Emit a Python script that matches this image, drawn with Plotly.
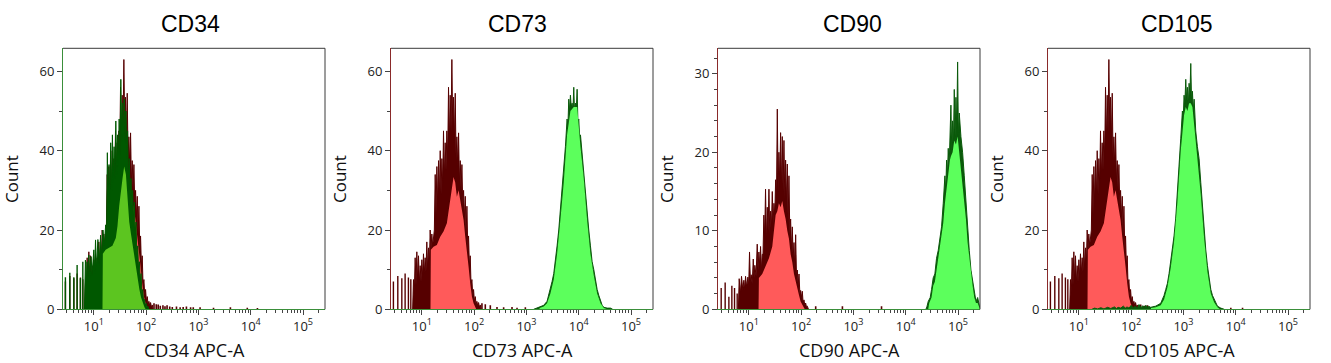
import plotly.graph_objects as go

# ---------------- DATA (log10 of APC-A intensity, counts) ----------------
panel_titles = ["CD34", "CD73", "CD90", "CD105"]
axis_titles = ["CD34 APC-A", "CD73 APC-A", "CD90 APC-A", "CD105 APC-A"]
x_tick_vals = [10, 100, 1000, 10000, 100000]
x_tick_text = ["10<sup>1</sup>", "10<sup>2</sup>", "10<sup>3</sup>", "10<sup>4</sup>", "10<sup>5</sup>"]

# isotype control (panels CD34, CD73, CD105)
iso_spike_log = [0.456, 0.540, 0.617, 0.680, 0.743, 0.789]
iso_spike_cnt = [7.0, 8.4, 7.8, 9.0, 8.0, 7.6]
iso_hi_log = [0.824, 0.840, 0.856, 0.872, 0.888, 0.904, 0.920, 0.936, 0.952, 0.968, 0.984, 1.000,
              1.016, 1.031, 1.047, 1.063, 1.079, 1.095, 1.111, 1.127, 1.143, 1.159, 1.175, 1.191,
              1.207, 1.223, 1.239, 1.255, 1.271, 1.287, 1.303, 1.319, 1.335, 1.351, 1.367, 1.383,
              1.399, 1.414, 1.430, 1.446, 1.462, 1.478, 1.494, 1.510, 1.526, 1.542, 1.558, 1.574,
              1.590, 1.606, 1.622, 1.638, 1.654, 1.670, 1.686, 1.702, 1.718, 1.734, 1.750, 1.766,
              1.782, 1.798, 1.814, 1.830, 1.846, 1.862, 1.878, 1.893, 1.909, 1.925, 1.941, 1.957,
              1.973, 1.989, 2.005, 2.021, 2.037, 2.053, 2.069, 2.085, 2.101, 2.117, 2.133]
iso_hi_cnt = [0, 7.5, 4.0, 13.0, 6.0, 14.5, 7.0, 13.5, 6.5, 11.0, 7.0, 12.5,
              8.0, 14.0, 9.0, 13.0, 9.5, 17.0, 10.0, 15.5, 11.0, 20.0, 15.0, 19.0,
              16.0, 18.0, 20.0, 34.0, 24.0, 36.0, 26.0, 37.5, 28.0, 40.0, 29.0, 38.0,
              31.0, 45.0, 33.0, 42.0, 35.0, 45.0, 38.0, 56.0, 42.0, 54.0, 45.0, 63.0,
              46.0, 53.5, 42.0, 54.5, 38.0, 43.5, 36.0, 44.5, 32.0, 37.5, 30.0, 36.5,
              26.0, 30.0, 23.0, 28.5, 19.0, 26.0, 15.0, 18.5, 11.0, 13.5, 6.0, 7.5,
              3.5, 5.0, 2.0, 3.2, 1.2, 2.0, 0.8, 1.7, 0.5, 1.1, 0]
iso_lo_log = [1.165, 1.172, 1.223, 1.287, 1.351, 1.414, 1.478, 1.542, 1.574, 1.606, 1.638, 1.670,
              1.702, 1.734, 1.766, 1.798, 1.830, 1.862, 1.893, 1.925, 1.957, 1.989, 2.021, 2.040]
iso_lo_cnt = [0, 15.0, 15.8, 16.2, 18.3, 19.6, 21.7, 27.6, 30.0, 33.4, 32.0, 28.4,
              30.0, 27.6, 25.9, 22.5, 18.3, 15.0, 10.8, 6.6, 3.2, 1.5, 0.7, 0]
cd34_iso_tail_log = [2.15, 2.193, 2.23, 2.27, 2.321, 2.36, 2.40, 2.451, 2.50, 2.58, 2.65, 2.708,
                     2.77, 2.85, 2.901, 3.031, 3.288, 3.611, 3.934, 4.128]
cd34_iso_tail_cnt = [1.5, 1.3, 1.2, 0.9, 1.0, 0.8, 1.0, 0.7, 0.6, 0.7, 0.5, 0.6,
                     0.7, 0.5, 0.5, 0.5, 0.4, 0.5, 0.4, 0.3]
cd73_iso_tail_log = [2.149, 2.213, 2.309, 2.437, 2.564, 2.724, 2.820, 2.979]
cd73_iso_tail_cnt = [1.5, 1.3, 1.0, 0.6, 0.5, 0.6, 0.4, 0.5]
cd105_iso_tail_log = [2.182, 2.25, 2.31, 2.437, 2.55, 2.70, 3.906, 4.13]
cd105_iso_tail_cnt = [1.2, 0.9, 1.0, 0.7, 0.5, 0.4, 0.4, 0.4]

# CD34 stain
cd34_spike_log = [0.456, 0.540, 0.617, 0.680, 0.743, 0.789]
cd34_spike_cnt = [8.1, 9.2, 8.1, 11.2, 7.8, 12.0]
cd34_hi_log = [0.820, 0.839, 0.855, 0.870, 0.886, 0.903, 0.920, 0.948, 0.965, 1.000, 1.016, 1.032,
               1.050, 1.077, 1.100, 1.129, 1.150, 1.174, 1.200, 1.226, 1.242, 1.258, 1.274, 1.290,
               1.306, 1.322, 1.338, 1.355, 1.371, 1.387, 1.403, 1.420, 1.436, 1.452, 1.468, 1.484,
               1.500, 1.516, 1.532, 1.548, 1.564, 1.580, 1.596, 1.613, 1.629, 1.645, 1.661, 1.677,
               1.693, 1.710, 1.726, 1.742, 1.758, 1.774, 1.790, 1.806, 1.822, 1.839, 1.855, 1.871,
               1.887, 1.903, 1.919, 1.935, 1.951, 1.968, 1.984, 2.000, 2.016, 2.032, 2.050]
cd34_hi_cnt = [0, 12.4, 6.0, 12.0, 7.0, 13.7, 8.0, 13.3, 8.5, 15.0, 9.0, 17.5,
               10.0, 17.6, 11.0, 18.7, 13.0, 20.0, 16.0, 21.3, 18.0, 39.5, 25.0, 36.5,
               27.0, 42.0, 30.0, 44.0, 32.0, 41.0, 33.0, 47.5, 34.0, 44.0, 36.0, 48.0,
               38.0, 58.0, 42.0, 52.0, 43.0, 53.0, 42.0, 50.0, 38.0, 45.0, 33.0, 38.0,
               29.0, 33.0, 26.0, 30.0, 23.0, 27.0, 19.0, 22.0, 14.0, 16.0, 10.0, 12.0,
               7.0, 9.0, 4.0, 5.0, 2.0, 2.5, 1.0, 1.5, 0.5, 0.8, 0]
cd34_lo_log = [1.165, 1.172, 1.226, 1.290, 1.355, 1.420, 1.452, 1.484, 1.516, 1.548, 1.580, 1.613,
               1.645, 1.677, 1.710, 1.742, 1.774, 1.806, 1.839, 1.871, 1.903, 1.935, 1.968, 1.990]
cd34_lo_cnt = [0, 14.0, 15.0, 15.5, 16.0, 18.0, 21.0, 26.0, 30.0, 33.0, 36.0, 34.0,
               28.0, 22.0, 19.0, 16.0, 13.0, 10.0, 7.5, 5.0, 3.0, 1.5, 0.5, 0]

# CD73 stain
cd73_hi_log = [3.138, 3.202, 3.266, 3.330, 3.394, 3.426, 3.458, 3.490, 3.522, 3.554, 3.586, 3.618,
               3.649, 3.681, 3.713, 3.745, 3.777, 3.793, 3.809, 3.825, 3.841, 3.857, 3.873, 3.889,
               3.905, 3.921, 3.937, 3.953, 3.969, 3.985, 4.001, 4.017, 4.033, 4.064, 4.096, 4.128,
               4.160, 4.192, 4.224, 4.256, 4.288, 4.320, 4.352, 4.384, 4.416, 4.448, 4.480, 4.543,
               4.607, 4.650]
cd73_hi_cnt = [0, 0.3, 0.5, 1.0, 2.0, 3.5, 5.0, 7.0, 9.0, 12.0, 16.0, 20.0,
               25.0, 30.0, 35.0, 41.0, 48.0, 46.0, 53.0, 50.0, 54.0, 51.0, 52.0, 50.0,
               56.0, 49.0, 52.0, 50.0, 55.5, 47.0, 48.0, 43.0, 44.0, 39.0, 36.0, 30.0,
               25.0, 20.0, 16.0, 12.0, 10.0, 7.0, 5.0, 3.5, 2.0, 1.0, 0.5, 0.3,
               0.3, 0]
cd73_lo_log = [3.250, 3.330, 3.394, 3.458, 3.522, 3.586, 3.649, 3.713, 3.777, 3.841, 3.905, 3.969,
               4.033, 4.096, 4.160, 4.224, 4.288, 4.352, 4.416, 4.480, 4.550]
cd73_lo_cnt = [0.3, 0.7, 1.5, 4.0, 7.5, 14.0, 22.5, 32.0, 44.0, 50.0, 51.0, 51.0,
               41.0, 33.0, 22.5, 14.0, 8.5, 4.0, 1.5, 0.3, 0]

# CD90 isotype
cd90_iso_spike_log = [0.471, 0.547, 0.618, 0.675, 0.726, 0.777]
cd90_iso_spike_cnt = [2.7, 3.4, 1.6, 3.0, 2.7, 2.0]
cd90_iso_hi_log = [0.800, 0.815, 0.838, 0.860, 0.883, 0.905, 0.921, 0.937, 0.959, 0.981, 0.997, 1.013,
                   1.029, 1.045, 1.065, 1.084, 1.100, 1.115, 1.138, 1.160, 1.176, 1.192, 1.208, 1.224,
                   1.240, 1.256, 1.271, 1.287, 1.303, 1.319, 1.336, 1.352, 1.368, 1.384, 1.400, 1.416,
                   1.432, 1.448, 1.464, 1.480, 1.496, 1.512, 1.528, 1.544, 1.560, 1.575, 1.591, 1.607,
                   1.623, 1.639, 1.655, 1.671, 1.687, 1.703, 1.719, 1.735, 1.751, 1.767, 1.783, 1.799,
                   1.815, 1.831, 1.847, 1.863, 1.879, 1.895, 1.911, 1.927, 1.943, 1.959, 1.975, 1.990,
                   2.006, 2.022, 2.038, 2.054, 2.070, 2.086, 2.102, 2.118, 2.140]
cd90_iso_hi_cnt = [0, 3.9, 2.0, 4.2, 2.5, 3.7, 2.5, 4.2, 2.8, 4.1, 3.0, 7.3,
                   3.5, 4.4, 3.2, 6.4, 4.0, 5.6, 4.2, 8.3, 5.0, 7.3, 5.5, 8.0,
                   5.0, 7.0, 7.0, 12.0, 9.0, 15.3, 8.5, 13.0, 10.0, 15.3, 9.5, 12.5,
                   10.5, 15.0, 11.0, 13.5, 12.0, 16.5, 14.0, 25.5, 15.0, 20.0, 16.0, 22.5,
                   15.5, 22.0, 15.0, 21.5, 14.0, 19.0, 13.5, 18.5, 11.0, 17.0, 9.5, 11.5,
                   7.5, 10.5, 6.5, 8.5, 5.0, 9.5, 4.0, 5.0, 3.0, 4.5, 2.0, 2.4,
                   1.5, 2.3, 0.8, 1.2, 0.5, 0.8, 0.3, 0.4, 0]
cd90_iso_lo_log = [1.185, 1.192, 1.256, 1.319, 1.384, 1.448, 1.480, 1.512, 1.544, 1.575, 1.607, 1.639,
                   1.671, 1.703, 1.735, 1.767, 1.799, 1.831, 1.863, 1.895, 1.927, 1.959, 1.990, 2.022,
                   2.054, 2.070]
cd90_iso_lo_cnt = [0, 4.0, 4.5, 5.5, 6.5, 8.0, 10.0, 12.0, 12.5, 13.5, 13.0, 13.8,
                   12.5, 11.5, 10.0, 9.0, 7.0, 6.0, 4.5, 3.5, 2.5, 1.8, 1.0, 0.5,
                   0.2, 0]
cd90_iso_tail_log = [2.278, 2.789, 3.537]
cd90_iso_tail_cnt = [0.4, 0.4, 0.4]

# CD90 stain
cd90_hi_log = [4.385, 4.404, 4.430, 4.468, 4.493, 4.525, 4.557, 4.589, 4.621, 4.653, 4.685, 4.717,
               4.749, 4.765, 4.781, 4.797, 4.813, 4.829, 4.845, 4.864, 4.880, 4.896, 4.912, 4.928,
               4.944, 4.960, 4.976, 4.992, 5.007, 5.023, 5.055, 5.087, 5.119, 5.151, 5.183, 5.215,
               5.247, 5.279, 5.311, 5.343, 5.375, 5.407, 5.439]
cd90_hi_cnt = [0, 0.3, 1.0, 1.5, 2.5, 4.0, 4.5, 6.5, 7.5, 9.0, 10.5, 13.5,
               17.0, 15.0, 19.0, 17.0, 20.5, 18.0, 23.5, 26.0, 20.0, 24.0, 21.0, 28.0,
               22.0, 27.0, 23.0, 31.5, 22.0, 25.0, 22.0, 20.0, 17.0, 13.5, 10.0, 7.5,
               5.0, 3.5, 2.0, 1.0, 1.5, 0.5, 0.3]
cd90_lo_log = [4.430, 4.449, 4.493, 4.525, 4.557, 4.589, 4.621, 4.653, 4.685, 4.717, 4.749, 4.781,
               4.813, 4.845, 4.864, 4.896, 4.928, 4.960, 4.992, 5.023, 5.055, 5.087, 5.119, 5.151,
               5.183, 5.215, 5.247, 5.279, 5.311, 5.343, 5.375, 5.407, 5.420]
cd90_lo_cnt = [0, 0.8, 1.5, 3.0, 3.5, 5.0, 6.0, 7.5, 9.0, 11.0, 13.5, 15.5,
               17.0, 19.0, 19.5, 20.0, 21.5, 21.0, 22.0, 20.0, 18.5, 16.5, 14.0, 11.5,
               8.5, 6.5, 4.5, 3.0, 1.5, 0.8, 0.8, 0.3, 0]

# CD105 stain
cd105_hi_log = [1.25, 1.30, 1.36, 1.42, 1.48, 1.55, 1.61, 1.68, 1.72, 1.75, 1.80, 1.85, 1.89,
                1.92, 1.96, 2.00, 2.04, 2.08, 2.12, 2.15, 2.19, 2.22, 2.25, 2.28, 2.31, 2.33,
                2.373, 2.469, 2.565, 2.597, 2.629, 2.661, 2.693, 2.725, 2.757, 2.789, 2.820, 2.852,
                2.884, 2.916, 2.948, 2.980, 2.996, 3.012, 3.028, 3.044, 3.060, 3.076, 3.092, 3.108,
                3.124, 3.140, 3.156, 3.172, 3.188, 3.204, 3.220, 3.235, 3.267, 3.299, 3.331, 3.363,
                3.395, 3.427, 3.459, 3.491, 3.523, 3.555, 3.587, 3.619, 3.650, 3.714, 3.780]
cd105_hi_cnt = [0, 0.3, 0.1, 0.4, 0.1, 0.5, 0.2, 0.6, 0.2, 0.5, 0.3, 0.8, 0.3,
                0.6, 0.3, 1.0, 0.4, 0.8, 0.3, 1.2, 0.4, 0.9, 0.5, 1.0, 0.5, 0.8,
                0.5, 0.8, 1.5, 2.5, 3.5, 5.0, 6.5, 9.0, 12.0, 15.0, 18.5, 23.0,
                29.0, 35.0, 43.0, 50.0, 48.0, 54.0, 52.0, 58.0, 53.0, 56.0, 51.0, 57.0,
                54.0, 62.0, 52.0, 55.0, 50.0, 53.0, 46.0, 45.0, 41.0, 38.0, 32.0, 26.0,
                20.0, 15.0, 11.0, 7.5, 5.0, 3.5, 2.5, 1.5, 0.8, 0.3, 0]
cd105_lo_log = [2.380, 2.469, 2.565, 2.629, 2.693, 2.757, 2.820, 2.884, 2.948, 3.012, 3.044, 3.076,
                3.108, 3.140, 3.172, 3.204, 3.267, 3.331, 3.395, 3.459, 3.523, 3.587, 3.650, 3.700]
cd105_lo_cnt = [0.3, 0.5, 1.0, 2.5, 5.5, 10.5, 17.0, 27.0, 40.0, 49.0, 51.0, 50.0,
                52.0, 52.0, 51.0, 47.0, 38.0, 29.0, 18.0, 9.5, 4.0, 1.8, 0.5, 0]

y_ranges = [65.83, 65.83, 33.24, 65.83]
y_tick_vals = [[0, 20, 40, 60], [0, 20, 40, 60], [0, 10, 20, 30], [0, 20, 40, 60]]
y_minor_dtick = [10, 10, 2, 10]

# ---------------- STYLE ----------------
W, H = 1331, 363
RED_DARK, RED_LIGHT = "#560000", "#ff5a5a"
GRN_DARK, GRN_LIGHT = "#0b5a0b", "#5cff5c"
GRN1_DARK, GRN1_LIGHT = "#005800", "#5cc520"
AX_GREEN, AX_RED, FRAME = "#3a8f3a", "#8a2a2a", "#3a3a3a"
LABEL_FONT = "Open Sans, DejaVu Sans, sans-serif"
TITLE_FONT = "Liberation Sans, Arial, sans-serif"

plot_left = [63, 391, 718, 1048]
plot_w = 262
plot_top, plot_bottom = 48.3, 309.3


def lin(vals):
    return [10 ** v for v in vals]


def spikes(logs, cnts):
    xs, ys = [], []
    for l, c in zip(logs, cnts):
        xs += [10 ** l, 10 ** l, None]
        ys += [0, c, None]
    return xs, ys


fig = go.Figure()


def add_pop(i, dark, light, hi_log, hi_cnt, lo_log=None, lo_cnt=None,
            sp_log=None, sp_cnt=None, tail_log=None, tail_cnt=None):
    xa, ya = f"x{i + 1}", f"y{i + 1}"
    fig.add_trace(go.Scatter(x=lin(hi_log), y=hi_cnt, mode="lines", xaxis=xa, yaxis=ya,
                             line=dict(color=dark, width=1), fill="tozeroy", fillcolor=dark,
                             hoverinfo="skip", showlegend=False))
    if sp_log:
        sx, sy = spikes(sp_log, sp_cnt)
        fig.add_trace(go.Scatter(x=sx, y=sy, mode="lines", xaxis=xa, yaxis=ya,
                                 line=dict(color=dark, width=1.4), hoverinfo="skip", showlegend=False))
    if tail_log:
        tx, ty = spikes(tail_log, tail_cnt)
        fig.add_trace(go.Scatter(x=tx, y=ty, mode="lines", xaxis=xa, yaxis=ya,
                                 line=dict(color=dark, width=1.6), hoverinfo="skip", showlegend=False))
    if lo_log:
        fig.add_trace(go.Scatter(x=lin(lo_log), y=lo_cnt, mode="lines", xaxis=xa, yaxis=ya,
                                 line=dict(color=light, width=0), fill="tozeroy", fillcolor=light,
                                 hoverinfo="skip", showlegend=False))


# panel 1: CD34
add_pop(0, RED_DARK, RED_LIGHT, iso_hi_log, iso_hi_cnt, iso_lo_log, iso_lo_cnt,
        iso_spike_log, iso_spike_cnt, cd34_iso_tail_log, cd34_iso_tail_cnt)
add_pop(0, GRN1_DARK, GRN1_LIGHT, cd34_hi_log, cd34_hi_cnt, cd34_lo_log, cd34_lo_cnt,
        cd34_spike_log, cd34_spike_cnt)
# panel 2: CD73
add_pop(1, RED_DARK, RED_LIGHT, iso_hi_log, iso_hi_cnt, iso_lo_log, iso_lo_cnt,
        iso_spike_log, iso_spike_cnt, cd73_iso_tail_log, cd73_iso_tail_cnt)
add_pop(1, GRN_DARK, GRN_LIGHT, cd73_hi_log, cd73_hi_cnt, cd73_lo_log, cd73_lo_cnt)
# panel 3: CD90
add_pop(2, RED_DARK, RED_LIGHT, cd90_iso_hi_log, cd90_iso_hi_cnt, cd90_iso_lo_log, cd90_iso_lo_cnt,
        cd90_iso_spike_log, cd90_iso_spike_cnt, cd90_iso_tail_log, cd90_iso_tail_cnt)
add_pop(2, GRN_DARK, GRN_LIGHT, cd90_hi_log, cd90_hi_cnt, cd90_lo_log, cd90_lo_cnt)
# panel 4: CD105
add_pop(3, RED_DARK, RED_LIGHT, iso_hi_log, iso_hi_cnt, iso_lo_log, iso_lo_cnt,
        iso_spike_log, iso_spike_cnt, cd105_iso_tail_log, cd105_iso_tail_cnt)
add_pop(3, GRN_DARK, GRN_LIGHT, cd105_hi_log, cd105_hi_cnt, cd105_lo_log, cd105_lo_cnt)

minor_x = []
for k in range(0, 6):
    for m in range(2, 10):
        v = m * 10 ** k
        if 2.6 < v < 2.6e5:
            minor_x.append(v)

y0 = (H - plot_bottom) / H
y1 = (H - plot_top) / H
layout = dict(template="none", width=W, height=H, autosize=False,
              margin=dict(l=0, r=0, t=0, b=0, pad=0, autoexpand=False),
              paper_bgcolor="white", plot_bgcolor="white", showlegend=False)
annotations = []
shapes = []
for i in range(4):
    x0 = plot_left[i] / W
    x1 = (plot_left[i] + plot_w) / W
    sfx = "" if i == 0 else str(i + 1)
    layout["xaxis" + sfx] = dict(
        domain=[x0, x1], anchor="y" + sfx, type="log", range=[0.41, 5.42], automargin=False,
        showline=True, linecolor=AX_GREEN, linewidth=1, mirror=False, showgrid=False,
        zeroline=False, ticks="outside", ticklen=5, tickcolor="#444", tickwidth=1,
        tickvals=x_tick_vals, ticktext=x_tick_text,
        tickfont=dict(family=LABEL_FONT, size=13, color="#222"),
        minor=dict(tickvals=minor_x, ticks="outside", ticklen=3, tickcolor="#444", showgrid=False),
    )
    layout["yaxis" + sfx] = dict(
        domain=[y0, y1], anchor="x" + sfx, range=[0, y_ranges[i]], automargin=False,
        showline=True, linecolor=AX_GREEN if i == 0 else AX_RED, linewidth=1, mirror=False,
        showgrid=False, zeroline=False, ticks="outside", ticklen=5, tickcolor="#444",
        tickvals=y_tick_vals[i], tickfont=dict(family=LABEL_FONT, size=13, color="#222"),
        minor=dict(dtick=y_minor_dtick[i], ticks="outside", ticklen=3, tickcolor="#444", showgrid=False),
    )
    xr = "x" + sfx + " domain"
    yr = "y" + sfx + " domain"
    shapes.append(dict(type="line", xref=xr, yref=yr, x0=0, x1=1, y0=1, y1=1,
                       line=dict(color=FRAME, width=1)))
    shapes.append(dict(type="line", xref=xr, yref=yr, x0=1, x1=1, y0=0, y1=1,
                       line=dict(color=FRAME, width=1)))
    cx = (plot_left[i] + plot_w / 2) / W
    title_x = [190, 517.7, 853, 1176.7][i] / W
    annotations.append(dict(text=panel_titles[i], x=title_x, y=(H - 24) / H, xref="paper", yref="paper",
                            xanchor="center", yanchor="middle", showarrow=False,
                            font=dict(family=TITLE_FONT, size=23, color="#000")))
    annotations.append(dict(text=axis_titles[i], x=cx, y=(H - 350) / H, xref="paper", yref="paper",
                            xanchor="center", yanchor="middle", showarrow=False,
                            font=dict(family=LABEL_FONT, size=18, color="#111")))
    annotations.append(dict(text="Count", x=(plot_left[i] - 52) / W, y=(H - 179) / H,
                            xref="paper", yref="paper", xanchor="center", yanchor="middle",
                            textangle=-90, showarrow=False,
                            font=dict(family=LABEL_FONT, size=17, color="#111")))
layout["annotations"] = annotations
layout["shapes"] = shapes
fig.update_layout(**layout)
fig.write_html("out.html", config={"displayModeBar": False, "responsive": False},
               post_script="document.body.style.margin='0';document.body.style.overflow='hidden';")
